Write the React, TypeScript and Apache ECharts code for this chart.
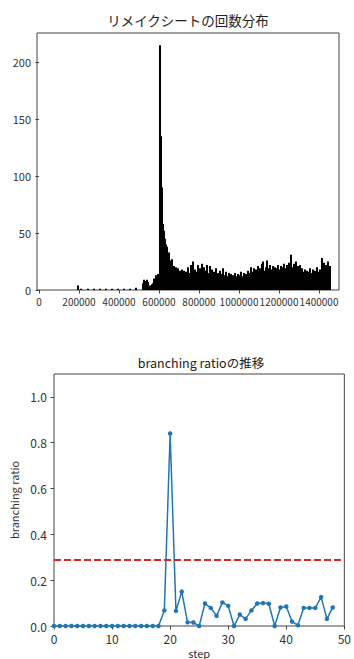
import React, { useEffect, useRef } from 'react';
import * as echarts from 'echarts';

const histTitle = 'リメイクシートの回数分布';
const ratioTitle = 'branching ratioの推移';

// sparse early sheet ids and their counts
const earlyIds = [195000, 210000, 245000, 275000, 305000, 335000, 365000, 395000, 425000, 455000, 485000];
const earlyCounts = [4, 1, 1, 1, 1, 1, 1, 1, 1, 1, 2];

// dense region: bins of histBinWidth starting at histBinStart
const histBinStart = 520000;
const histBinWidth = 5000;
const histCounts = [
  6, 9, 8, 5, 9, 7,
  3, 4, 2, 5, 6,
  10, 8, 13, 11, 14, 12,
  215, 135, 90, 58, 52, 45, 40,
  38, 30, 33, 26, 24, 27,
  18, 21, 16, 20, 14, 19, 12, 17,
  11, 18, 14, 17, 9, 16, 12, 20, 10, 15,
  22, 11, 25, 13, 18, 9, 16, 22, 12, 19,
  10, 23, 14, 20, 8, 17, 22, 11, 15, 21,
  9, 18, 13, 16, 7, 19, 12, 15, 8, 17,
  11, 14, 19, 9, 13, 16, 8, 12, 15, 10,
  14, 7, 13, 11, 15, 8, 12, 14, 9, 13,
  16, 10, 12, 15, 8, 14, 11, 17, 12, 15,
  20, 13, 16, 19, 11, 18, 14, 21, 12, 19,
  16, 23, 25, 17, 14, 20, 26, 15, 19, 22,
  13, 18, 21, 16, 20, 14, 19, 22, 15, 18,
  21, 13, 20, 23, 17, 19, 22, 16, 24, 18,
  31, 20, 17, 23, 19, 25, 16, 21, 18, 22,
  15, 19, 16, 13, 18, 14, 17, 12, 16, 19,
  13, 15, 18, 12, 17, 14, 20, 13, 16, 18,
  15, 28, 19, 24, 17, 22, 20, 25, 18, 21,
];
const histXTicks = [0, 200000, 400000, 600000, 800000, 1000000, 1200000, 1400000];
const histYTicks = [0, 50, 100, 150, 200];
const histXMin = -10000;
const histXMax = 1500000;
const histYMax = 225.75;

const ratios = [
  0, 0, 0, 0, 0, 0, 0, 0, 0, 0,
  0, 0, 0, 0, 0, 0, 0, 0, 0,
  0.068, 0.84, 0.066, 0.15, 0.016, 0.015, 0.0, 0.098, 0.079, 0.044,
  0.103, 0.088, 0.0, 0.05, 0.031, 0.068, 0.098, 0.1, 0.097, 0.0,
  0.081, 0.085, 0.019, 0.003, 0.079, 0.079, 0.079, 0.126, 0.031, 0.081,
];
const ratioYTicks = [0, 0.2, 0.4, 0.6, 0.8, 1.0];
const threshold = 0.29;

const FONT = '"Noto Sans CJK JP", "Noto Sans", sans-serif';
const FRAME = '#444';
const TEXT = '#333';

export default function App() {
  const ref = useRef<HTMLDivElement>(null);

  useEffect(() => {
    if (!ref.current) return;
    const chart = echarts.init(ref.current, undefined, { renderer: 'svg' });

    const histData: [number, number][] = [];
    earlyIds.forEach((x, i) => histData.push([x, earlyCounts[i]]));
    histCounts.forEach((c, i) => histData.push([histBinStart + i * histBinWidth, c]));

    const ratioData = ratios.map((v, i) => [i, v]);

    const tickStyle = { show: true, length: 3.5, inside: false, lineStyle: { color: FRAME, width: 1 } };
    const labelStyle = { color: TEXT, fontFamily: FONT, hideOverlap: false };

    chart.setOption({
      animation: false,
      textStyle: { fontFamily: FONT },
      title: [
        {
          text: histTitle,
          left: 188,
          top: 13,
          textAlign: 'center',
          padding: 0,
          textStyle: { fontSize: 13.5, fontWeight: 'normal', color: '#222', fontFamily: FONT },
        },
        {
          text: ratioTitle,
          left: 201,
          top: 356,
          textAlign: 'center',
          padding: 0,
          textStyle: { fontSize: 12.5, fontWeight: 'normal', color: '#222', fontFamily: FONT },
        },
      ],
      grid: [
        { left: 37, top: 33, width: 302, height: 257, show: true, borderColor: FRAME, borderWidth: 1 },
        { left: 54, top: 374, width: 294, height: 252, show: true, borderColor: FRAME, borderWidth: 1 },
      ],
      xAxis: [
        {
          type: 'value',
          gridIndex: 0,
          min: histXMin,
          max: histXMax,
          splitLine: { show: false },
          axisLine: { show: false },
          axisTick: { ...tickStyle, customValues: histXTicks },
          axisLabel: {
            ...labelStyle,
            fontSize: 10,
            margin: 6,
            customValues: histXTicks,
            showMinLabel: true,
            showMaxLabel: true,
            formatter: (v: number) => String(v),
          },
        },
        {
          type: 'value',
          gridIndex: 1,
          min: 0,
          max: 50,
          interval: 10,
          splitLine: { show: false },
          axisLine: { show: false },
          axisTick: tickStyle,
          axisLabel: { ...labelStyle, fontSize: 12, margin: 6 },
          name: 'step',
          nameLocation: 'middle',
          nameGap: 21,
          nameTextStyle: { color: TEXT, fontSize: 11, fontFamily: FONT },
        },
      ],
      yAxis: [
        {
          type: 'value',
          gridIndex: 0,
          min: 0,
          max: histYMax,
          splitLine: { show: false },
          axisLine: { show: false },
          axisTick: { ...tickStyle, customValues: histYTicks },
          axisLabel: { ...labelStyle, fontSize: 11, margin: 6, customValues: histYTicks },
        },
        {
          type: 'value',
          gridIndex: 1,
          min: 0,
          max: 1.1,
          splitLine: { show: false },
          axisLine: { show: false },
          axisTick: { ...tickStyle, customValues: ratioYTicks },
          axisLabel: {
            ...labelStyle,
            fontSize: 12,
            margin: 7,
            customValues: ratioYTicks,
            formatter: (v: number) => v.toFixed(1),
          },
          name: 'branching ratio',
          nameLocation: 'middle',
          nameRotate: 90,
          nameGap: 27,
          nameTextStyle: { color: TEXT, fontSize: 11, fontFamily: FONT },
        },
      ],
      series: [
        {
          type: 'bar',
          xAxisIndex: 0,
          yAxisIndex: 0,
          data: histData,
          barWidth: 2,
          itemStyle: { color: '#000' },
          silent: true,
        },
        {
          type: 'line',
          xAxisIndex: 1,
          yAxisIndex: 1,
          data: ratioData,
          symbol: 'circle',
          symbolSize: 4.5,
          itemStyle: { color: '#1f77b4' },
          lineStyle: { color: '#1f77b4', width: 1.5 },
          markLine: {
            silent: true,
            symbol: 'none',
            label: { show: false },
            lineStyle: { color: '#d62728', width: 2, type: [7, 3] },
            data: [{ yAxis: threshold }],
          },
        },
      ],
    });

    return () => chart.dispose();
  }, []);

  return (
    <div
      ref={ref}
      style={{ position: 'fixed', left: 0, top: 0, width: 354, height: 659, background: '#fff' }}
    />
  );
}
